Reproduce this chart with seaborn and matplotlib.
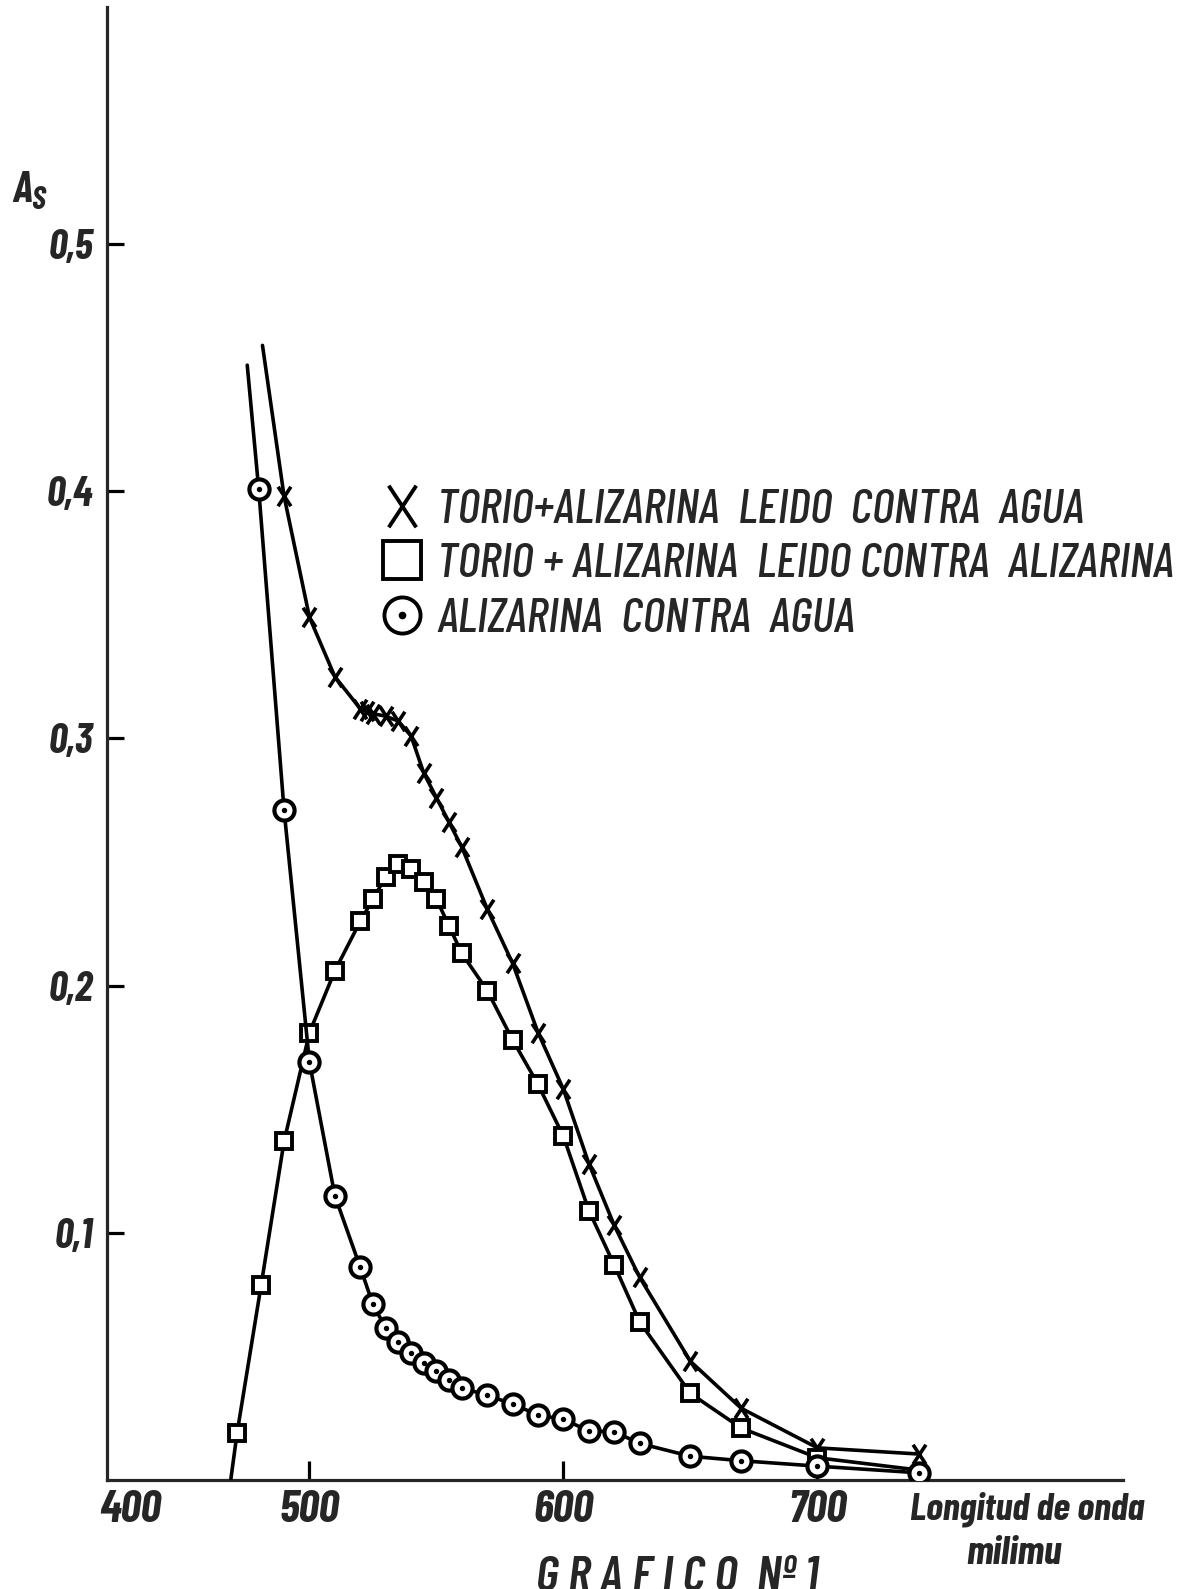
import matplotlib
matplotlib.use("Agg")
import matplotlib.pyplot as plt
from matplotlib.path import Path
from matplotlib.lines import Line2D
from matplotlib.legend_handler import HandlerTuple
import seaborn as sns
import pandas as pd

# ---------------- data ----------------
# X : Torio + alizarina leido contra agua  (first point = line start, no marker)
x_cross = [481.5, 490, 500, 510, 520, 522.5, 525, 530, 535, 540, 545, 550, 555, 560,
           570, 580, 590, 600, 610, 620, 630, 650, 670, 700, 740]
y_cross = [0.459, 0.398, 0.349, 0.325, 0.312, 0.311, 0.310, 0.309, 0.307, 0.301, 0.286,
           0.276, 0.266, 0.256, 0.231, 0.209, 0.181, 0.158, 0.128, 0.103, 0.082, 0.048,
           0.029, 0.013, 0.0105]

# squares : Torio + alizarina leido contra alizarina (first/last = line ends)
x_square = [469, 471.5, 481, 490, 500, 510, 520, 525, 530, 535, 540, 545, 550, 555, 560,
            570, 580, 590, 600, 610, 620, 630, 650, 670, 700, 740]
y_square = [0.0, 0.019, 0.079, 0.137, 0.181, 0.206, 0.226, 0.235, 0.244, 0.249, 0.247,
            0.242, 0.235, 0.224, 0.213, 0.198, 0.178, 0.160, 0.139, 0.109, 0.087, 0.064,
            0.035, 0.021, 0.009, 0.004]

# circled dots : Alizarina contra agua (first point = line start)
x_circle = [475.5, 480, 490, 500, 510, 520, 525, 530, 535, 540, 545, 550, 555, 560, 570,
            580, 590, 600, 610, 620, 630, 650, 670, 700, 740]
y_circle = [0.451, 0.401, 0.271, 0.169, 0.115, 0.086, 0.071, 0.0615, 0.056, 0.0515,
            0.0474, 0.0442, 0.0404, 0.0372, 0.0343, 0.0307, 0.0263, 0.0245, 0.0199,
            0.0195, 0.0148, 0.0096, 0.0078, 0.0056, 0.0029]

labels = ["TORIO+ALIZARINA  LEIDO  CONTRA  AGUA",
          "TORIO + ALIZARINA  LEIDO CONTRA  ALIZARINA",
          "ALIZARINA  CONTRA  AGUA"]
xtick_vals = [500, 600, 700]
xtick_labels = ["500", "600", "700"]
ytick_vals = [0.1, 0.2, 0.3, 0.4, 0.5]
ytick_labels = ["0,1", "0,2", "0,3", "0,4", "0,5"]

# ---------------- style ----------------
sns.set_style("ticks")
FAM = ["Barlow Condensed", "DejaVu Sans"]
plt.rcParams["font.family"] = FAM
plt.rcParams["font.stretch"] = "condensed"
plt.rcParams["axes.linewidth"] = 2.3

fig = plt.figure(figsize=(11.92, 15.89), dpi=100)
ax = fig.add_axes([0.0898, 0.0686, 0.8523, 0.927])

# elongated X marker
xmark = Path([(-0.33, -0.5), (0.33, 0.5), (-0.33, 0.5), (0.33, -0.5)],
             [Path.MOVETO, Path.LINETO, Path.MOVETO, Path.LINETO])

LW = 2.6
df_c = pd.DataFrame({"x": x_cross, "y": y_cross})
df_s = pd.DataFrame({"x": x_square, "y": y_square})
df_o = pd.DataFrame({"x": x_circle, "y": y_circle})

sns.lineplot(data=df_c, x="x", y="y", ax=ax, sort=False, estimator=None, color="black",
             lw=LW, marker=xmark, ms=14, mew=2.6, mec="black",
             markevery=list(range(1, len(x_cross))), zorder=3)
sns.lineplot(data=df_s, x="x", y="y", ax=ax, sort=False, estimator=None, color="black",
             lw=LW, marker="s", ms=11.5, mew=2.8, mec="black", mfc="white",
             markevery=list(range(1, len(x_square) - 1)), zorder=4)
sns.lineplot(data=df_o, x="x", y="y", ax=ax, sort=False, estimator=None, color="black",
             lw=LW, marker="o", ms=14.5, mew=3.0, mec="black", mfc="white",
             markevery=list(range(1, len(x_circle))), zorder=5)
sns.scatterplot(data=df_o.iloc[1:], x="x", y="y", ax=ax, color="black", s=15,
                linewidth=0, zorder=6)

ax.set_xlim(420.3, 820.3)
ax.set_ylim(0, 0.5959)
sns.despine(ax=ax)
ax.set_xlabel("")
ax.set_ylabel("")

TB = dict(fontweight="bold", fontstyle="italic")
ax.set_xticks(xtick_vals)
ax.set_xticklabels(xtick_labels, fontsize=33, **TB)
ax.set_yticks(ytick_vals)
ax.set_yticklabels(ytick_labels, fontsize=30, **TB)
ax.tick_params(axis="x", direction="in", length=14, width=2.3, pad=7, color="black")
ax.tick_params(axis="y", direction="in", length=12, width=2.3, pad=10, color="black")

# "400" at origin and axis titles
fig.text(0.109, 0.0500, "400", fontsize=33, ha="center", va="center", **TB)
fig.text(0.862, 0.0500, "Longitud de onda", fontsize=28, ha="center", va="center", **TB)
fig.text(0.851, 0.0225, "milimu", fontsize=29, ha="center", va="center", **TB)
fig.text(0.568, 0.0210, "G R A F I C O  Nº 1", fontsize=36, fontstyle="italic",
         fontweight="semibold", ha="center", va="top")
fig.text(0.010, 0.880, "A", fontsize=31, ha="left", va="center", **TB)
fig.text(0.026, 0.874, "S", fontsize=23, ha="left", va="center", **TB)

# legend
h1 = Line2D([], [], ls="none", marker=xmark, ms=30, mew=2.8, color="black")
h2 = Line2D([], [], ls="none", marker="s", ms=28, mew=2.8, mec="black", mfc="white")
h3a = Line2D([], [], ls="none", marker="o", ms=26, mew=2.8, mec="black", mfc="white")
h3b = Line2D([], [], ls="none", marker="o", ms=5.5, mew=0, color="black")
leg = fig.legend(handles=[h1, h2, (h3a, h3b)], labels=labels,
                 loc="upper left", bbox_to_anchor=(0.320, 0.6925),
                 bbox_transform=fig.transFigure, frameon=False,
                 prop={"family": FAM, "size": 35, "style": "italic",
                       "weight": "medium", "stretch": "condensed"},
                 handlelength=0.85, handletextpad=0.3, labelspacing=0.24,
                 borderpad=0, borderaxespad=0,
                 handler_map={tuple: HandlerTuple(ndivide=1)})

fig.savefig("out.png", dpi=100, facecolor="white")
